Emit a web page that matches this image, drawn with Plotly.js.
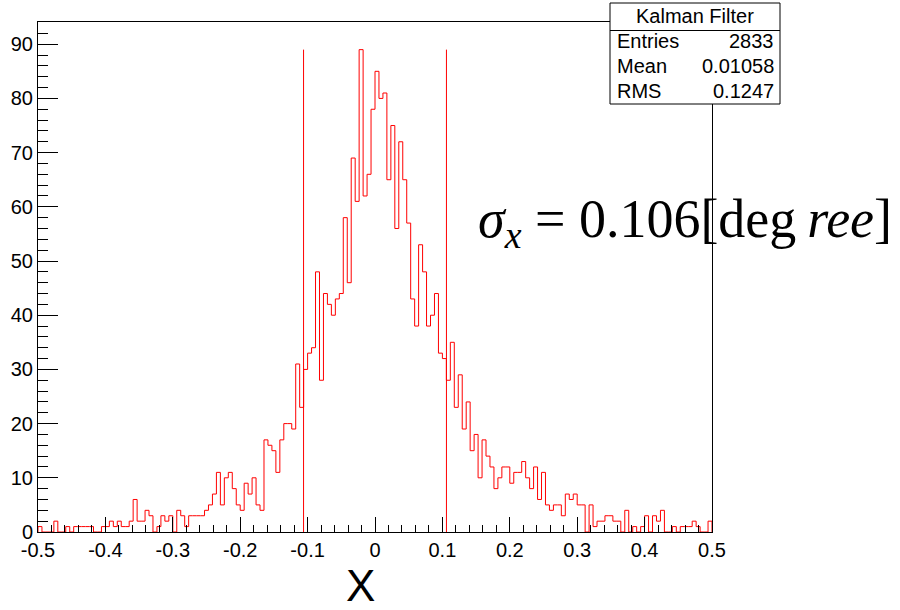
<!DOCTYPE html>
<html>
<head>
<meta charset="utf-8">
<script src="https://cdn.plot.ly/plotly-3.0.1.min.js"></script>
<style>html,body{margin:0;padding:0;background:#fff;}#plot{width:900px;height:610px;}</style>
</head>
<body>
<div id="plot"></div>
<script>
// ---- histogram definition ----
const nBins = 170;
const xMin = -0.5;
const xMax = 0.5;
const counts = [
  1,0,0,0,2,0,0,1,0,1, 1,1,1,1,0,0,1,1,2,1,
  2,1,1,2,6,2,2,4,3,0, 1,3,2,3,0,4,3,1,3,3,
  3,3,4,5,7,11,5,10,11,8, 5,4,9,7,10,5,4,17,16,15,
  11,17,20,20,19,31,23,30,33,34, 48,28,44,42,40,43,44,58,46,69,
  61,89,62,66,78,85,80,81,65,75, 56,72,65,57,43,38,53,48,38,40,
  44,33,32,28,35,23,29,19,24,15, 18,10,17,14,12,8,10,12,12,9,
  11,11,13,10,8,12,6,11,5,4, 5,5,3,7,6,7,5,5,0,5,
  1,2,2,3,3,2,2,0,4,0, 1,0,1,3,0,3,2,4,0,0,
  1,0,1,1,1,2,1,0,0,2
];
const sigmaX = 0.106;
const sigmaLineTop = 89;

const xTickVals = [-0.5,-0.4,-0.3,-0.2,-0.1,0,0.1,0.2,0.3,0.4,0.5];
const xTickText = ["-0.5","-0.4","-0.3","-0.2","-0.1","0","0.1","0.2","0.3","0.4","0.5"];
const yTickVals = [0,10,20,30,40,50,60,70,80,90];
const yTickText = ["0","10","20","30","40","50","60","70","80","90"];

const statsTitle = "Kalman Filter";
const statsLabels = ["Entries","Mean","RMS"];
const statsValues = ["2833","0.01058","0.1247"];
const xTitle = "X";

// ---- build step outline (ROOT style) ----
const binW = (xMax - xMin) / nBins;
const sx = [xMin], sy = [0];
for (let i = 0; i < nBins; i++) { sx.push(xMin + i * binW); sy.push(counts[i]); }
sx.push(xMax); sy.push(0);

const traces = [
  {x: sx, y: sy, type: 'scatter', mode: 'lines',
   line: {shape: 'hv', color: '#ff0000', width: 1}, hoverinfo: 'skip'},
  {x: [-sigmaX, -sigmaX], y: [0, sigmaLineTop], type: 'scatter', mode: 'lines',
   line: {color: '#ff0000', width: 1}, hoverinfo: 'skip'},
  {x: [sigmaX, sigmaX], y: [0, sigmaLineTop], type: 'scatter', mode: 'lines',
   line: {color: '#ff0000', width: 1}, hoverinfo: 'skip'}
];

// pixel -> paper helpers for decorations
const M = {l: 38, r: 188, t: 22, b: 78};
const PW = 900 - M.l - M.r, PH = 610 - M.t - M.b;
const px2x = p => (p - M.l) / PW;
const py2y = p => (610 - M.b - p) / PH;

const sans = 'Liberation Sans, Arial, Helvetica, sans-serif';
const statFont = {family: sans, size: 20, color: '#000'};

const annotations = [
  {xref: 'paper', yref: 'paper', x: px2x(695), y: py2y(16), text: statsTitle,
   showarrow: false, xanchor: 'center', yanchor: 'middle', font: statFont}
];
const rowsY = [41, 66, 91];
statsLabels.forEach((lab, k) => {
  annotations.push({xref: 'paper', yref: 'paper', x: px2x(615), y: py2y(rowsY[k]), text: lab,
    showarrow: false, xanchor: 'left', yanchor: 'middle', font: statFont});
  annotations.push({xref: 'paper', yref: 'paper', x: px2x(776), y: py2y(rowsY[k]), text: statsValues[k],
    showarrow: false, xanchor: 'right', yanchor: 'middle', font: statFont});
});
annotations.push({xref: 'paper', yref: 'paper', x: px2x(476), y: py2y(222),
  text: '<i>σ</i><sub><i>x</i></sub> = 0.106[deg&#8201;<i>ree</i>]',
  showarrow: false, xanchor: 'left', yanchor: 'middle',
  font: {family: 'Liberation Serif, Times New Roman, serif', size: 54, color: '#000'}});
annotations.push({xref: 'paper', yref: 'paper', x: px2x(360), y: py2y(585), text: xTitle,
  showarrow: false, xanchor: 'center', yanchor: 'middle',
  font: {family: sans, size: 44, color: '#000'}});

const shapes = [
  {type: 'rect', xref: 'paper', yref: 'paper', x0: px2x(610), x1: px2x(780), y0: py2y(104), y1: py2y(3),
   fillcolor: '#fff', line: {color: '#000', width: 1}, layer: 'above'},
  {type: 'line', xref: 'paper', yref: 'paper', x0: px2x(610), x1: px2x(780), y0: py2y(30.5), y1: py2y(30.5),
   line: {color: '#000', width: 1}, layer: 'above'}
];

const tickFont = {family: sans, size: 20, color: '#000'};
const layout = {
  width: 900, height: 610, margin: M,
  paper_bgcolor: '#fff', plot_bgcolor: '#fff', showlegend: false,
  xaxis: {range: [xMin, xMax], tickmode: 'array', tickvals: xTickVals, ticktext: xTickText,
    ticks: 'inside', ticklen: 15, tickwidth: 1, tickcolor: '#000',
    showline: true, mirror: true, linecolor: '#000', linewidth: 1,
    showgrid: false, zeroline: false, tickfont: tickFont,
    minor: {tickmode: 'linear', tick0: xMin, dtick: 0.02, ticks: 'inside', ticklen: 7, tickcolor: '#000', showgrid: false}},
  yaxis: {range: [0, 94.1], tickmode: 'array', tickvals: yTickVals, ticktext: yTickText,
    ticks: 'inside', ticklen: 20, tickwidth: 1, tickcolor: '#000',
    showline: true, mirror: true, linecolor: '#000', linewidth: 1,
    showgrid: false, zeroline: false, tickfont: tickFont,
    minor: {tickmode: 'linear', tick0: 0, dtick: 2, ticks: 'inside', ticklen: 10, tickcolor: '#000', showgrid: false}},
  annotations: annotations,
  shapes: shapes
};

Plotly.newPlot('plot', traces, layout, {displayModeBar: false, staticPlot: true});
</script>
</body>
</html>
